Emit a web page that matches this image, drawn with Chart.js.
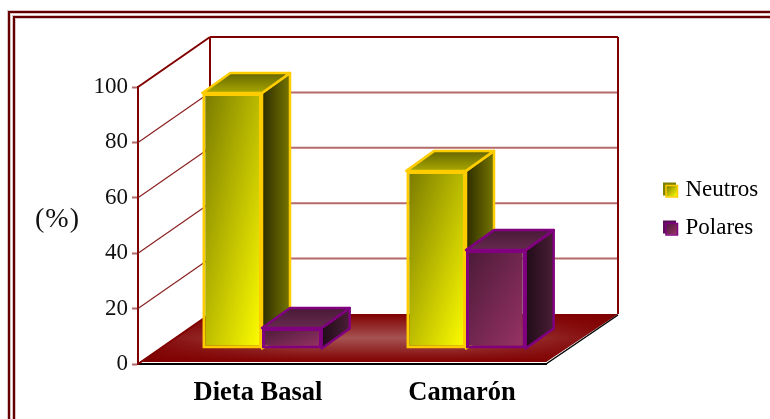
<!DOCTYPE html>
<html>
<head>
<meta charset="utf-8">
<title>Neutros y Polares</title>
<script src="https://cdn.jsdelivr.net/npm/chart.js@4/dist/chart.umd.js"></script>
<style>
  html, body { margin: 0; padding: 0; background: #fff; }
  canvas { display: block; }
</style>
</head>
<body>
<canvas id="myChart" width="770" height="419"></canvas>
<script>
const categories = ["Dieta Basal", "Camarón"];
const neutros = [92.4, 64.3];
const polares = [7.6, 35.7];
const yTicks = [0, 20, 40, 60, 80, 100];
const yTitle = "(%)";

const SERIF = "'Liberation Serif', 'Times New Roman', serif";
const WALL_DX = 72;
const WALL_DY = -50;
const BAR_DX = 22;
const BAR_DY = -15;
const DEPTH_DX = 28;
const DEPTH_DY = -20;

const palette = {
  Neutros: {
    border: "#ffcc00",
    front: ["#787800", "#ffff00"],
    side: ["#2c2c00", "#767600"],
    top: ["#666600", "#a8a800"],
    markBack: "#808000",
  },
  Polares: {
    border: "#800080",
    front: ["#4a1a38", "#993366"],
    side: ["#200c18", "#4a1e36"],
    top: ["#4a1a38", "#662a4e"],
    markBack: "#5a0f5a",
  },
};

function grad(ctx, x0, y0, x1, y1, colors) {
  const g = ctx.createLinearGradient(x0, y0, x1, y1);
  g.addColorStop(0, colors[0]);
  g.addColorStop(1, colors[1]);
  return g;
}

// corner to corner gradient stretched over the box, like a bounding box fill
function boxGrad(ctx, l, t, r, b, colors) {
  const w = r - l;
  const h = b - t;
  const s = 2 / (1 / (w * w) + 1 / (h * h));
  return grad(ctx, l, t, l + s / w, t + s / h, colors);
}

function poly(ctx, pts, fill, stroke, width) {
  ctx.beginPath();
  pts.forEach((p, i) => (i ? ctx.lineTo(p[0], p[1]) : ctx.moveTo(p[0], p[1])));
  ctx.closePath();
  if (fill) {
    ctx.fillStyle = fill;
    ctx.fill();
  }
  if (stroke) {
    ctx.strokeStyle = stroke;
    ctx.lineWidth = width;
    ctx.lineJoin = "round";
    ctx.stroke();
  }
}

function line(ctx, x0, y0, x1, y1, color, width) {
  ctx.beginPath();
  ctx.moveTo(x0, y0);
  ctx.lineTo(x1, y1);
  ctx.strokeStyle = color;
  ctx.lineWidth = width;
  ctx.stroke();
}

function drawRoom(chart) {
  const { ctx, scales } = chart;
  const y = scales.y;
  const x = scales.x;
  const y0 = y.getPixelForValue(0);
  const yTop = y.getPixelForValue(100);
  const backL = x.left + WALL_DX;
  const backR = x.right + WALL_DX;

  // frame, soft fringe first
  ctx.strokeStyle = "#dcc4c4";
  ctx.lineWidth = 4;
  ctx.strokeRect(9, 12, 900, 600);
  ctx.strokeRect(14, 17, 900, 600);
  ctx.strokeStyle = "#660000";
  ctx.lineWidth = 2;
  ctx.strokeRect(9, 12, 900, 600);
  ctx.strokeRect(14, 17, 900, 600);

  // back wall
  yTicks.slice(1, -1).forEach((v) => {
    const p = y.getPixelForValue(v);
    line(ctx, x.left, p, backL, p + WALL_DY, "#8b2020", 1.2);
    line(ctx, backL, p + WALL_DY, backR, p + WALL_DY, "#b56a6a", 2);
  });
  line(ctx, x.left, yTop, backL, yTop + WALL_DY, "#800000", 2);
  line(ctx, backL, yTop + WALL_DY, backR, yTop + WALL_DY, "#800000", 2);
  line(ctx, backL, yTop + WALL_DY, backL, y0 + WALL_DY, "#800000", 2);
  line(ctx, backR, yTop + WALL_DY, backR, y0 + WALL_DY, "#800000", 2);

  // floor
  const pts = [
    [x.left + 2, y0 - 2],
    [backL, y0 + WALL_DY],
    [backR, y0 + WALL_DY],
    [x.right, y0 - 2],
  ];
  const vert = ctx.createLinearGradient(0, y0 + WALL_DY, 0, y0 - 2);
  vert.addColorStop(0, "#800000");
  vert.addColorStop(0.5, "#a65252");
  vert.addColorStop(1, "#800000");
  poly(ctx, pts, vert);
  const horiz = ctx.createLinearGradient(x.left, 0, backR, 0);
  horiz.addColorStop(0, "rgba(128,0,0,0.9)");
  horiz.addColorStop(0.35, "rgba(128,0,0,0)");
  horiz.addColorStop(0.65, "rgba(128,0,0,0)");
  horiz.addColorStop(1, "rgba(128,0,0,0.95)");
  poly(ctx, pts, horiz);
  line(ctx, x.right, y0, backR, y0 + WALL_DY + 1, "#000", 1.5);
  line(ctx, x.left, y0, backL, y0 + WALL_DY, "#800000", 2);
}

function drawBars(chart, index) {
  const { ctx } = chart;
  const meta = chart.getDatasetMeta(index);
  const colors = palette[chart.data.datasets[index].label];
  meta.data.forEach((el) => {
    const l = el.x - el.width / 2;
    const r = el.x + el.width / 2;
    const t = el.y;
    const b = el.base;
    const dx = DEPTH_DX;
    const dy = DEPTH_DY;
    poly(ctx, [[r, t], [r + dx, t + dy], [r + dx, b + dy], [r, b]],
      grad(ctx, r, 0, r + dx, 0, colors.side), colors.border, 2.5);
    poly(ctx, [[l, t], [l + dx, t + dy], [r + dx, t + dy], [r, t]],
      grad(ctx, 0, t + dy, 0, t, colors.top), colors.border, 2.5);
    el.options = Object.assign({}, el.options, {
      backgroundColor: boxGrad(ctx, l, t, r, b, colors.front),
    });
  });
  meta.controller.draw();
}

// room, frame, (%) and the 3D faces are not in Chart.js, so they live here
const room3d = {
  id: "room3d",
  afterLayout(chart) {
    const legend = chart.legend;
    legend.left = 648;
    legend.right = 648 + legend.width;
    legend.top = 163;
    legend.bottom = 163 + legend.height;
  },
  beforeDatasetsDraw(chart) {
    const { ctx } = chart;
    ctx.save();
    drawRoom(chart);
    ctx.translate(BAR_DX, BAR_DY);
    // Neutros go behind Polares, the default order would paint them last
    drawBars(chart, 0);
    drawBars(chart, 1);
    ctx.restore();
    return false;
  },
  afterDraw(chart) {
    const { ctx } = chart;
    // (%) label
    ctx.save();
    ctx.font = "28px " + SERIF;
    ctx.letterSpacing = "1px";
    ctx.fillStyle = "#111";
    ctx.textBaseline = "middle";
    ctx.fillText(yTitle, 35, 220);
    ctx.restore();
    // legend markers
    chart.legend.legendHitBoxes.forEach((hb, i) => {
      const colors = palette[chart.legend.legendItems[i].text];
      const top = hb.top + hb.height / 2 - 7;
      const left = hb.left;
      ctx.save();
      ctx.fillStyle = colors.markBack;
      ctx.fillRect(left, top, 13, 13);
      ctx.fillStyle = grad(ctx, left + 3, top + 3, left + 14, top + 14, colors.front);
      ctx.fillRect(left + 3, top + 3, 11, 11);
      ctx.strokeStyle = colors.border;
      ctx.lineWidth = 1.5;
      ctx.strokeRect(left + 3, top + 3, 11.5, 11.5);
      ctx.restore();
    });
  },
};

new Chart(document.getElementById("myChart").getContext("2d"), {
  type: "bar",
  data: {
    labels: categories,
    datasets: [
      {
        label: "Neutros",
        data: neutros,
        borderColor: palette.Neutros.border,
        backgroundColor: palette.Neutros.front[1],
        borderWidth: 3,
        borderSkipped: false,
      },
      {
        label: "Polares",
        data: polares,
        borderColor: palette.Polares.border,
        backgroundColor: palette.Polares.front[1],
        borderWidth: 3,
        borderSkipped: false,
      },
    ],
  },
  options: {
    responsive: false,
    animation: false,
    events: [],
    categoryPercentage: 0.585,
    barPercentage: 1,
    layout: {
      padding: { left: 0, right: 224, top: 87, bottom: 0 },
    },
    plugins: {
      tooltip: { enabled: false },
      legend: {
        position: "chartArea",
        align: "start",
        labels: {
          boxWidth: 11,
          boxHeight: 11,
          padding: 15,
          color: "#111",
          font: { family: SERIF, size: 23 },
          generateLabels: (chart) =>
            chart.data.datasets.map((ds, i) => ({
              text: ds.label,
              datasetIndex: i,
              fillStyle: "rgba(0,0,0,0)",
              strokeStyle: "rgba(0,0,0,0)",
              lineWidth: 0,
            })),
        },
      },
    },
    scales: {
      x: {
        grid: { display: false },
        border: { color: "#000", width: 2 },
        afterFit: (scale) => {
          scale.height = 55;
        },
        ticks: {
          color: "#000",
          padding: 5,
          labelOffset: 18,
          maxRotation: 0,
          font: { family: SERIF, size: 26.5, weight: "bold" },
        },
      },
      y: {
        min: 0,
        max: 100,
        afterBuildTicks: (axis) => {
          axis.ticks = yTicks.map((value) => ({ value }));
        },
        afterFit: (scale) => {
          scale.width = 138;
        },
        grid: {
          drawOnChartArea: false,
          tickLength: 6,
          tickColor: "#b56a6a",
          tickWidth: 2,
        },
        border: { color: "#800000", width: 2 },
        ticks: {
          color: "#111",
          padding: 4,
          font: { family: SERIF, size: 23 },
        },
      },
    },
  },
  plugins: [room3d],
});
</script>
</body>
</html>
